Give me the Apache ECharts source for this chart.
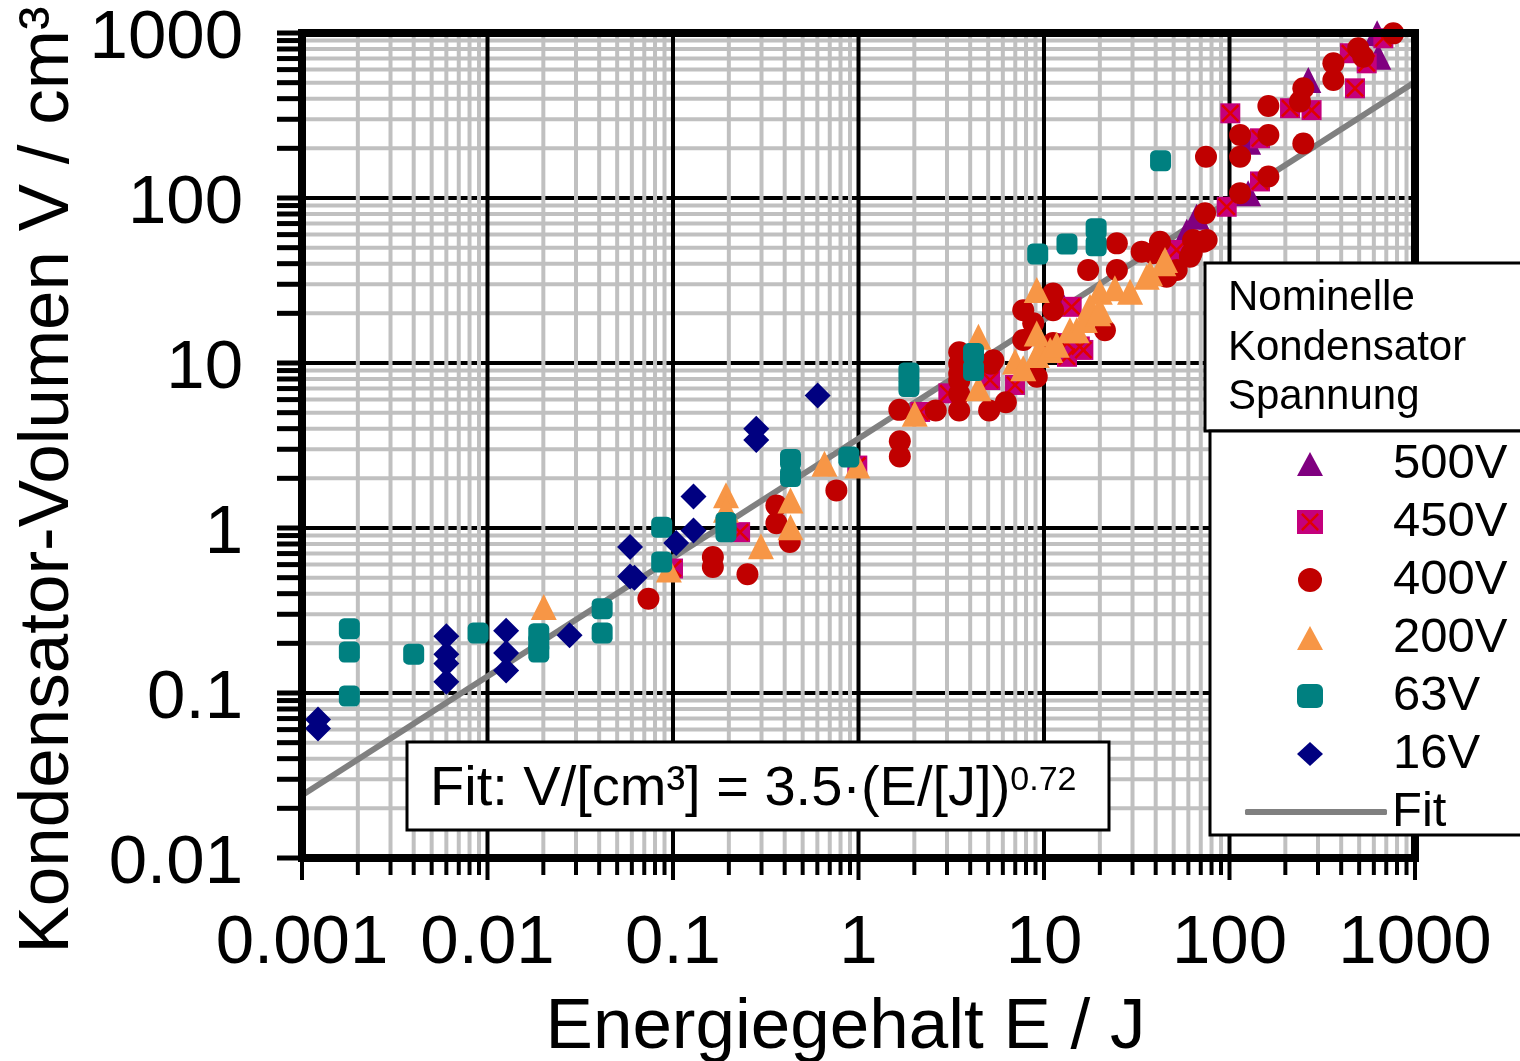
<!DOCTYPE html>
<html>
<head>
<meta charset="UTF-8">
<title>Kondensator-Volumen</title>
<style>
html, body { margin: 0; padding: 0; background: #fff; }
#myChart { width: 1520px; height: 1061px; }
</style>
</head>
<body>
<div id="myChart"></div>
<script src="https://cdn.jsdelivr.net/npm/echarts@6.0.0/dist/echarts.min.js"></script>
<script>
var FONT = '"Liberation Sans", Arial, sans-serif';

// axis ticks
var xTickValues = [0.001, 0.01, 0.1, 1, 10, 100, 1000];
var xTickLabels = ['0.001', '0.01', '0.1', '1', '10', '100', '1000'];
var yTickValues = [0.01, 0.1, 1, 10, 100, 1000];
var yTickLabels = ['0.01', '0.1', '1', '10', '100', '1000'];
var minorSteps = [2, 3, 4, 5, 6, 7, 8, 9];

var legendNames = ['500V', '450V', '400V', '200V', '63V', '16V'];

// [E in J, V in cm3]
var v500 = [[12.4, 23.5], [58.8, 62.5], [66.5, 77.1], [126, 107], [126, 219], [266, 519], [634, 718], [625, 995]];

var v450 = [[0.1, 0.568], [0.23, 0.944], [0.985, 2.39], [2.15, 5.05], [3.05, 6.55], [5.12, 7.88], [6.98, 7.36],
	[14.1, 21.9], [15.6, 12.6], [13.3, 13.2], [13.3, 10.9], [16.3, 12.0], [51.9, 48.4], [96.6, 88.5],
	[146, 126], [101, 326], [146, 230], [212, 350], [277, 341], [475, 462], [446, 754], [549, 655], [675, 929]];

var v400 = [[0.0737, 0.373], [0.164, 0.667], [0.164, 0.58], [0.252, 0.524], [0.361, 1.37], [0.361, 1.07],
	[0.426, 0.822], [0.76, 1.69], [1.67, 3.36], [1.67, 2.71], [1.66, 5.2], [2.61, 5.15],
	[3.49, 5.15], [3.49, 6.5], [3.49, 7.8], [3.49, 8.6], [3.49, 9.9], [3.49, 11.6],
	[5.17, 9.9], [5.06, 5.15], [6.23, 5.78], [5.33, 10.4], [7.73, 20.9], [7.73, 13.8], [8.75, 17.4], [9.14, 8.26],
	[11.2, 26.4], [11.2, 20.9], [11.2, 13.2], [17.3, 36.6], [24.7, 36.6], [24.7, 53.1], [21.3, 15.8],
	[33.6, 47.3], [38.8, 46.2], [42.2, 54.3], [45.8, 33.3], [51.9, 36.6], [61.2, 44.1], [63.6, 55.6],
	[62.5, 46.2], [72.3, 54.3], [75.3, 55.6], [73.8, 80.8], [74.7, 178],
	[114, 107], [114, 178], [114, 241], [162, 135], [162, 241], [162, 361], [250, 214], [250, 462],
	[240, 384], [363, 655], [363, 519], [494, 808], [526, 718], [764, 995]];

var v200 = [[0.0201, 0.332], [0.095, 0.56], [0.193, 1.58], [0.193, 1.29], [0.298, 0.775], [0.43, 1.47],
	[0.43, 1.01], [0.655, 2.45], [0.985, 2.39], [2.01, 4.92], [4.43, 14.4], [4.43, 7.03],
	[6.98, 10.2], [7.73, 9.29], [9.14, 27.7], [9.14, 15.1], [9.5, 12.0], [9.14, 11.2], [10.8, 12.0],
	[11.7, 12.9], [13.8, 15.8], [15.0, 15.8], [16.6, 18.2], [17.7, 21.9], [19.6, 20.0], [20.0, 27.0],
	[20.0, 20.9], [24.1, 28.4], [29.1, 27.0], [35.8, 33.3], [37.3, 35.0], [44.0, 40.2], [44.9, 42.1]];

var v63 = [[0.0018, 0.245], [0.0018, 0.177], [0.0018, 0.096], [0.004, 0.172], [0.0089, 0.231],
	[0.0189, 0.229], [0.0189, 0.2], [0.0189, 0.177], [0.0415, 0.324], [0.0415, 0.231], [0.0869, 1.01],
	[0.0869, 0.622], [0.193, 1.08], [0.193, 0.95], [0.43, 2.6], [0.43, 2.05], [0.887, 2.69],
	[1.87, 8.7], [1.87, 7.2], [4.17, 11.4], [4.17, 9.0], [9.25, 45.7], [13.3, 52.6], [19.1, 65.1],
	[19.1, 51.4], [42.5, 168]];

var v16 = [[0.00122, 0.069], [0.00122, 0.061], [0.006, 0.221], [0.006, 0.172], [0.006, 0.151],
	[0.006, 0.117], [0.0126, 0.238], [0.0126, 0.175], [0.0126, 0.137], [0.0277, 0.224], [0.0587, 0.766],
	[0.0587, 0.509], [0.062, 0.5], [0.104, 0.81], [0.129, 0.966], [0.129, 1.55], [0.281, 3.99],
	[0.281, 3.42], [0.602, 6.35]];

var fitLine = [[0.001, 0.024], [1000, 505]];

var X_MIN = xTickValues[0], X_MAX = xTickValues[xTickValues.length - 1];
var Y_MIN = yTickValues[0], Y_MAX = yTickValues[yTickValues.length - 1];
var CROSS = 'path://M0,1 L1,0 L5,4 L9,0 L10,1 L6,5 L10,9 L9,10 L5,6 L1,10 L0,9 L4,5 Z';

// kinds: 0 h-minor, 1 h-major, 2 v-minor, 3 v-major, 4 x-tick minor, 5 x-tick major, 6 y-tick minor, 7 y-tick major
function buildGridItems() {
	var items = [];
	var k, m;
	for (k = 0; k < yTickValues.length - 1; k++)
		for (m = 0; m < minorSteps.length; m++) items.push([1, yTickValues[k] * minorSteps[m], 0]);
	for (k = 0; k < yTickValues.length; k++) items.push([1, yTickValues[k], 1]);
	for (k = 0; k < xTickValues.length - 1; k++)
		for (m = 0; m < minorSteps.length; m++) items.push([xTickValues[k] * minorSteps[m], 1, 2]);
	for (k = 0; k < xTickValues.length; k++) items.push([xTickValues[k], 1, 3]);
	for (k = 0; k < xTickValues.length - 1; k++)
		for (m = 0; m < minorSteps.length; m++) items.push([xTickValues[k] * minorSteps[m], 1, 4]);
	for (k = 0; k < xTickValues.length; k++) items.push([xTickValues[k], 1, 5]);
	for (k = 0; k < yTickValues.length - 1; k++)
		for (m = 0; m < minorSteps.length; m++) items.push([1, yTickValues[k] * minorSteps[m], 6]);
	for (k = 0; k < yTickValues.length; k++) items.push([1, yTickValues[k], 7]);
	return items;
}

function renderGrid(params, api) {
	var kind = api.value(2);
	var a, b;
	if (kind <= 1) {
		a = api.coord([X_MIN, api.value(1)]);
		b = api.coord([X_MAX, api.value(1)]);
	} else if (kind <= 3) {
		a = api.coord([api.value(0), Y_MIN]);
		b = api.coord([api.value(0), Y_MAX]);
	} else if (kind <= 5) {
		a = api.coord([api.value(0), Y_MIN]);
		b = [a[0], a[1] + (kind === 5 ? 22 : 17)];
	} else {
		a = api.coord([X_MIN, api.value(1)]);
		b = [a[0] - 25, a[1]];
	}
	var gray = kind === 0 || kind === 2;
	return {
		type: 'line',
		shape: { x1: a[0], y1: a[1], x2: b[0], y2: b[1] },
		style: { stroke: gray ? '#c0c0c0' : '#000', lineWidth: kind >= 6 ? 5 : 4 }
	};
}

function labelFor(values, labels) {
	return function(v) {
		for (var i = 0; i < values.length; i++) {
			if (Math.abs(Math.log10(v / values[i])) < 0.01) return labels[i];
		}
		return '';
	};
}

function frameAxis(pos, isX) {
	var ax = {
		type: 'log', logBase: 10, position: pos, z: 4,
		min: isX ? X_MIN : Y_MIN, max: isX ? X_MAX : Y_MAX,
		axisLine: { lineStyle: { color: '#000', width: 8, cap: 'square' } },
		axisTick: { show: false }, minorTick: { show: false },
		splitLine: { show: false }, minorSplitLine: { show: false },
		axisLabel: { show: false }
	};
	return ax;
}

var xMain = frameAxis('bottom', true);
xMain.axisLabel = { show: true, fontSize: 69, fontFamily: FONT, color: '#000', margin: 51,
	formatter: labelFor(xTickValues, xTickLabels) };
xMain.name = 'Energiegehalt E / J';
xMain.nameLocation = 'middle';
xMain.nameGap = 170;
xMain.nameTextStyle = { fontSize: 71, fontFamily: FONT, color: '#000', verticalAlign: 'middle', padding: [0, 26, 0, 0] };

var yMain = frameAxis('left', false);
yMain.axisLabel = { show: true, fontSize: 69, fontFamily: FONT, color: '#000', margin: 59,
	verticalAlign: 'top', lineHeight: 12,
	formatter: labelFor(yTickValues, yTickLabels) };

function scatter(name, data, symbol, size, color) {
	return { name: name, type: 'scatter', data: data, symbol: symbol, symbolSize: size, z: 3,
		itemStyle: { color: color, opacity: 1 }, silent: true };
}

var legendText = { fontSize: 49, lineHeight: 58, fontFamily: FONT, color: '#000' };

var option = {
	backgroundColor: '#fff',
	animation: false,
	grid: { left: 302, right: 105, top: 33, bottom: 203, containLabel: false, outerBoundsMode: 'none' },
	xAxis: [xMain, frameAxis('top', true)],
	yAxis: [yMain, frameAxis('right', false)],
	legend: [{
		orient: 'vertical', left: 1292, top: 430, z: 20,
		itemWidth: 26, itemHeight: 24, itemGap: 0,
		textStyle: Object.assign({ padding: [0, 0, 0, 65] }, legendText),
		data: legendNames
	}, {
		// red cross drawn over the 450V legend square
		orient: 'vertical', left: 1296, top: 488, z: 21, selectedMode: false,
		itemWidth: 18, itemHeight: 18, itemGap: 0,
		textStyle: Object.assign({}, legendText, { color: 'rgba(0,0,0,0)' }),
		data: [{ name: '450V', icon: CROSS, itemStyle: { color: '#e00000' } }]
	}, {
		orient: 'vertical', left: 1240, top: 778, z: 20,
		itemWidth: 142, itemHeight: 6, itemGap: 0,
		textStyle: Object.assign({ padding: [0, 0, 0, 0] }, legendText),
		data: [{ name: 'Fit', icon: 'roundRect' }]
	}],
	graphic: [
		{ type: 'rect', z: 10, shape: { x: 1205, y: 263, width: 330, height: 168 },
			style: { fill: '#fff', stroke: '#000', lineWidth: 3 } },
		{ type: 'text', z: 11, x: 1228, y: 274,
			style: { text: 'Nominelle\nKondensator\nSpannung', fontSize: 42, lineHeight: 49.5,
				fontFamily: FONT, fill: '#000', verticalAlign: 'top' } },
		{ type: 'rect', z: 10, shape: { x: 1210, y: 431, width: 330, height: 404 },
			style: { fill: '#fff', stroke: '#000', lineWidth: 3 } },
		{ type: 'rect', z: 10, shape: { x: 407, y: 742, width: 702, height: 88 },
			style: { fill: '#fff', stroke: '#000', lineWidth: 3 } },
		{ type: 'text', z: 11, x: 430, y: 790,
			style: { text: '{a|Fit: V/[cm³] = 3.5·(E/[J])}{b|0.72}', verticalAlign: 'middle', fill: '#000',
				rich: {
					a: { fontSize: 56, lineHeight: 60, fontFamily: FONT, fill: '#000' },
					b: { fontSize: 34, lineHeight: 34, fontFamily: FONT, fill: '#000', verticalAlign: 'top', padding: [4, 0, 0, 0] }
				} } },
		{ type: 'text', z: 11, x: 48, y: 480, rotation: Math.PI / 2,
			style: { text: 'Kondensator-Volumen V / cm³', fontSize: 71, fontFamily: FONT, fill: '#000',
				align: 'center', verticalAlign: 'middle' } }
	],
	series: [
		{ type: 'custom', renderItem: renderGrid, data: buildGridItems(), encode: { x: 0, y: 1 },
			silent: true, z: 1, clip: false },
		{ name: 'Fit', type: 'line', data: fitLine, symbol: 'none', showSymbol: false, z: 2, silent: true,
			lineStyle: { color: '#808080', width: 6 }, itemStyle: { color: '#808080' } },
		scatter('500V', v500, 'triangle', 26, '#800080'),
		scatter('450V', v450, 'rect', 20, '#c4007c'),
		scatter('450V', v450, CROSS, 18, '#e00000'),
		scatter('400V', v400, 'circle', 22, '#c00000'),
		scatter('200V', v200, 'triangle', 26, '#f79646'),
		scatter('63V', v63, 'roundRect', 21, '#008080'),
		scatter('16V', v16, 'diamond', 26, '#000080')
	]
};

var myChart = echarts.init(document.getElementById('myChart'));
myChart.setOption(option);
</script>
</body>
</html>
